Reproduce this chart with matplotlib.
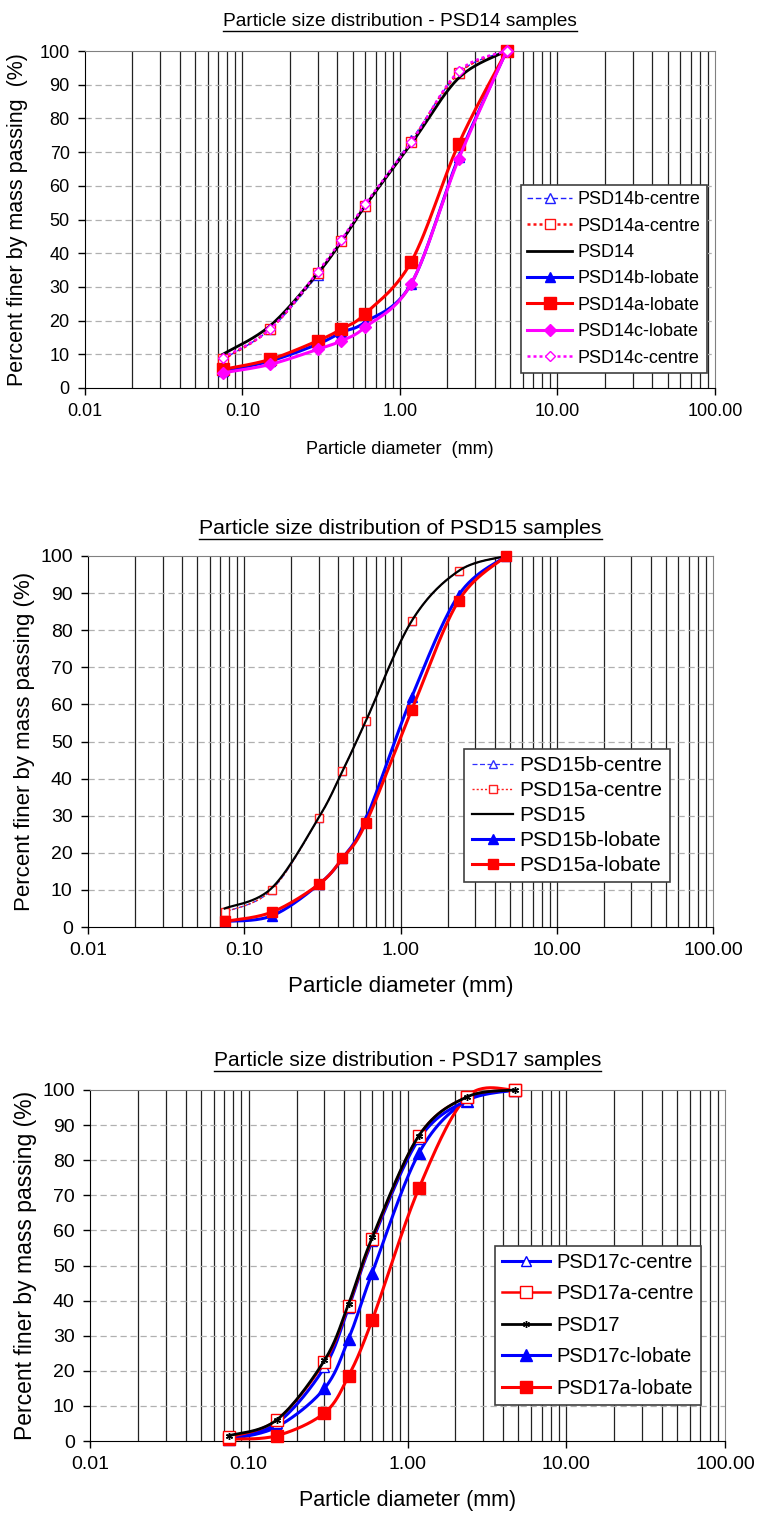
import numpy as np
import matplotlib
matplotlib.use("Agg")
import matplotlib.pyplot as plt
from matplotlib.lines import Line2D
from matplotlib.ticker import FixedLocator, NullLocator, FixedFormatter

plt.rcParams['font.family'] = ['Liberation Sans', 'DejaVu Sans']

# sieve openings (mm)
sieve = [0.075, 0.15, 0.3, 0.425, 0.6, 1.18, 2.36, 4.75]

# PSD14 samples, % passing
psd14b_centre = [8.5, 17.5, 33.5, 44.0, 54.0, 73.5, 93.5, 100]
psd14a_centre = [8.5, 17.5, 34.0, 43.5, 54.0, 73.0, 93.5, 100]
psd14 = [10.0, 18.5, 34.0, 43.5, 54.0, 72.5, 92.0, 100]
psd14b_lobate = [5.0, 8.0, 13.0, 16.5, 19.5, 31.0, 68.5, 100]
psd14a_lobate = [5.5, 8.5, 14.0, 17.5, 22.0, 37.5, 72.5, 100]
psd14c_lobate = [4.5, 7.0, 11.5, 14.0, 18.0, 31.0, 68.0, 100]
psd14c_centre = [9.0, 17.5, 34.5, 44.0, 54.5, 73.0, 94.0, 100]

# PSD15 samples
psd15b_centre = [4.0, 10.0, 29.5, 42.0, 55.5, 82.5, 96.0, 100]
psd15a_centre = [4.0, 10.0, 29.5, 42.0, 55.5, 82.5, 96.0, 100]
psd15 = [5.0, 10.5, 29.5, 42.0, 55.5, 82.5, 96.0, 100]
psd15b_lobate = [1.5, 3.0, 11.5, 18.5, 29.0, 62.0, 89.5, 100]
psd15a_lobate = [1.5, 4.0, 11.5, 18.5, 28.0, 58.5, 88.0, 100]

# PSD17 samples
psd17c_centre = [1.0, 5.0, 21.0, 38.0, 57.0, 86.0, 97.0, 100]
psd17a_centre = [1.0, 6.0, 22.5, 38.5, 57.5, 87.0, 98.0, 100]
psd17 = [1.5, 6.0, 23.0, 39.0, 58.0, 87.0, 98.0, 100]
psd17c_lobate = [0.5, 4.0, 15.0, 29.0, 48.0, 82.0, 97.0, 100]
psd17a_lobate = [0.5, 1.5, 8.0, 18.5, 34.5, 72.0, 98.0, 100]

xticks = [0.01, 0.1, 1, 10, 100]
xticklabels = ['0.01', '0.10', '1.00', '10.00', '100.00']
yticks = list(range(0, 101, 10))


def smooth(x, y, n=30):
    # excel style smoothed line (bezier through the points, log x)
    lx = np.log10(np.asarray(x, float))
    y = np.asarray(y, float)
    px = np.concatenate([[lx[0]], lx, [lx[-1]]])
    py = np.concatenate([[y[0]], y, [y[-1]]])
    xs, ys = [], []
    for i in range(1, len(px) - 2):
        p0 = np.array([px[i], py[i]])
        p3 = np.array([px[i + 1], py[i + 1]])
        c1 = p0 + (np.array([px[i + 1], py[i + 1]]) - np.array([px[i - 1], py[i - 1]])) / 6
        c2 = p3 - (np.array([px[i + 2], py[i + 2]]) - np.array([px[i], py[i]])) / 6
        t = np.linspace(0, 1, n, endpoint=False)[:, None]
        b = (1 - t) ** 3 * p0 + 3 * (1 - t) ** 2 * t * c1 + 3 * (1 - t) * t ** 2 * c2 + t ** 3 * p3
        xs.extend(b[:, 0]); ys.extend(b[:, 1])
    xs.append(lx[-1]); ys.append(y[-1])
    return 10 ** np.array(xs), np.array(ys), list(range(0, len(xs), n))


def series(ax, y, label, color, ls='-', lw=2.0, marker=None, ms=7, mfc=None, z=3):
    xs, ys, idx = smooth(sieve, y)
    ax.plot(xs, ys, color=color, ls=ls, lw=lw, marker=marker, markevery=idx,
            ms=ms, mfc=mfc if mfc else color, mec=color, mew=1.0,
            label=label, zorder=z, clip_on=False)


def setup(ax, title, xlabel, ylabel, fs_tick, fs_title, fs_x, fs_y, pad_t, pad_x, pad_y):
    ax.set_xscale('log')
    ax.set_xlim(0.01, 100)
    ax.set_ylim(0, 100)
    minors = [m * 10.0 ** e for e in range(-2, 2) for m in range(2, 10)]
    for v in minors + xticks[1:-1]:
        ax.axvline(v, color='#222222', lw=0.9, zorder=1)
    for v in yticks[1:-1]:
        ax.axhline(v, color='#b0b0b0', lw=0.9, ls=(0, (5, 3)), zorder=1)
    ax.xaxis.set_major_locator(FixedLocator(xticks))
    ax.xaxis.set_major_formatter(FixedFormatter(xticklabels))
    ax.xaxis.set_minor_locator(NullLocator())
    ax.set_yticks(yticks)
    ax.tick_params(direction='out', length=5, width=1, colors='black', pad=6, labelsize=fs_tick)
    ax.spines['top'].set_color('#808080')
    ax.spines['right'].set_color('#808080')
    ax.set_xlabel(xlabel, fontsize=fs_x, labelpad=pad_x)
    ax.set_ylabel(ylabel, fontsize=fs_y, labelpad=pad_y)
    return ax.set_title(title, fontsize=fs_title, pad=pad_t)


fig = plt.figure(figsize=(7.58, 15.21), dpi=100)
W, H = 758.0, 1521.0


def axes_px(x0, x1, y0, y1):
    return fig.add_axes([x0 / W, 1 - y1 / H, (x1 - x0) / W, (y1 - y0) / H])


ax1 = axes_px(85, 715, 51, 388)
ax2 = axes_px(88, 713, 556, 927)
ax3 = axes_px(90, 725, 1090, 1441)

titles = [
    setup(ax1, 'Particle size distribution - PSD14 samples', 'Particle diameter  (mm)',
          'Percent finer by mass passing  (%)', 13, 13.8, 13, 15.5, 18, 15, 8),
    setup(ax2, 'Particle size distribution of PSD15 samples', 'Particle diameter (mm)',
          'Percent finer by mass passing (%)', 14, 15.2, 16, 16, 16, 12, 4),
    setup(ax3, 'Particle size distribution - PSD17 samples', 'Particle diameter (mm)',
          'Percent finer by mass passing (%)', 14, 15, 15.5, 16.5, 17, 12, 4),
]

# PSD14
series(ax1, psd14b_centre, 'PSD14b-centre', '#2020ff', ls=(0, (4, 2)), lw=1.0, marker='^', ms=6.5, mfc='white', z=3)
series(ax1, psd14a_centre, 'PSD14a-centre', '#ff1010', ls=(0, (1.2, 1.2)), lw=1.8, marker='s', ms=6.5, mfc='white', z=3)
series(ax1, psd14, 'PSD14', 'black', lw=2.0, z=4)
series(ax1, psd14b_lobate, 'PSD14b-lobate', '#0000ff', lw=2.2, marker='^', ms=7.5, z=5)
series(ax1, psd14a_lobate, 'PSD14a-lobate', '#ff0000', lw=2.2, marker='s', ms=8, z=5)
series(ax1, psd14c_lobate, 'PSD14c-lobate', '#ff00ff', lw=2.2, marker='D', ms=6.5, z=6)
series(ax1, psd14c_centre, 'PSD14c-centre', '#ff00ff', ls=(0, (1.2, 1.2)), lw=1.8, marker='D', ms=5.5, mfc='white', z=6)

# PSD15
series(ax2, psd15b_centre, 'PSD15b-centre', '#3030ff', ls=(0, (4, 2)), lw=0.9, marker='^', ms=6, mfc='white', z=3)
series(ax2, psd15a_centre, 'PSD15a-centre', '#ff2020', ls=(0, (1.5, 1.5)), lw=1.0, marker='s', ms=6, mfc='white', z=3)
series(ax2, psd15, 'PSD15', 'black', lw=1.6, z=4)
series(ax2, psd15b_lobate, 'PSD15b-lobate', '#0000ff', lw=2.2, marker='^', ms=7, z=5)
series(ax2, psd15a_lobate, 'PSD15a-lobate', '#ff0000', lw=2.2, marker='s', ms=7, z=5)

# PSD17
series(ax3, psd17c_centre, 'PSD17c-centre', '#0000ff', lw=2.2, marker='^', ms=7.5, mfc='white', z=4)
series(ax3, psd17a_centre, 'PSD17a-centre', '#ff0000', lw=1.8, marker='s', ms=8, mfc='white', z=4)
series(ax3, psd17, 'PSD17', 'black', lw=2.0, marker=(6, 2, 0), ms=5, z=5)
series(ax3, psd17c_lobate, 'PSD17c-lobate', '#0000ff', lw=2.2, marker='^', ms=8.5, z=3)
series(ax3, psd17a_lobate, 'PSD17a-lobate', '#ff0000', lw=2.2, marker='s', ms=9, z=3)

for ax, anchor, fs, sp, hl in [(ax1, (0.987, 0.045), 13, 0.52, 2.5),
                               (ax2, (0.931, 0.121), 15, 0.28, 2.0),
                               (ax3, (0.962, 0.103), 14.5, 0.62, 2.4)]:
    leg = ax.legend(loc='lower right', bbox_to_anchor=anchor, fontsize=fs, labelspacing=sp,
                    handlelength=hl, handletextpad=0.3, borderpad=0.35, borderaxespad=0,
                    fancybox=False, framealpha=1, edgecolor='#404040')
    leg.get_frame().set_linewidth(1.2)
    leg.set_zorder(10)

# underline the titles
fig.canvas.draw()
r = fig.canvas.get_renderer()
for t in titles:
    bb = t.get_window_extent(r)
    yy = (bb.y0 - 1) / fig.bbox.height
    fig.add_artist(Line2D([bb.x0 / fig.bbox.width, bb.x1 / fig.bbox.width], [yy, yy],
                          color='black', lw=1.0, transform=fig.transFigure))

fig.savefig('out.png', dpi=100)
